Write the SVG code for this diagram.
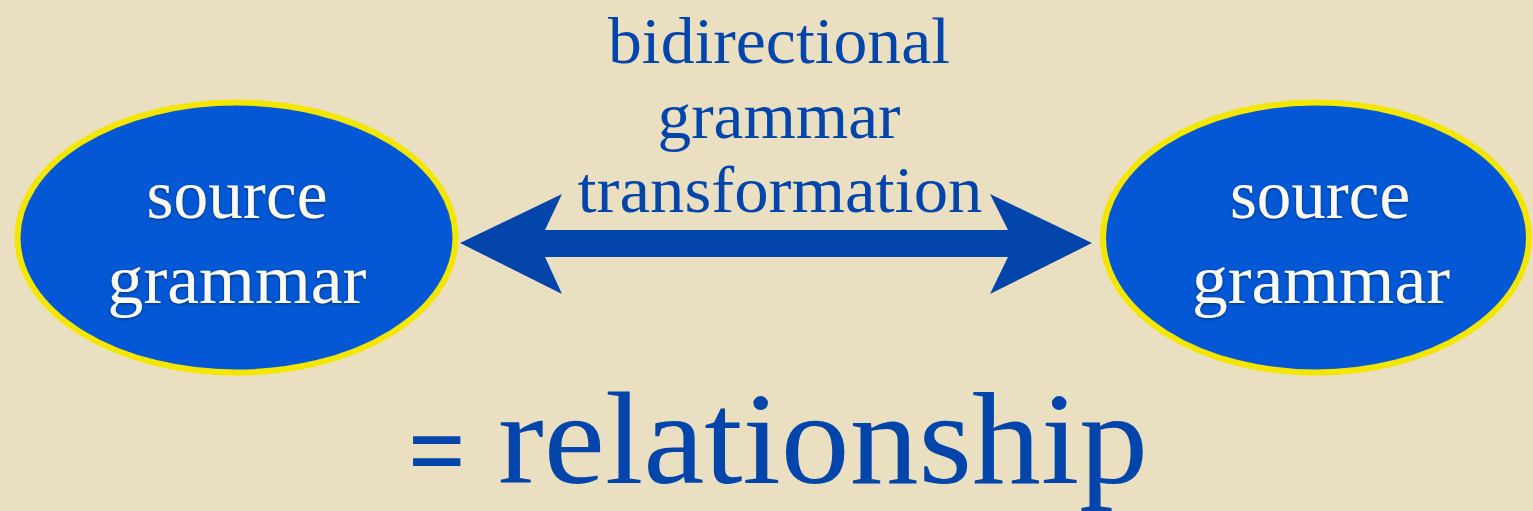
<svg xmlns="http://www.w3.org/2000/svg" width="1533" height="511" viewBox="0 0 1533 511">
  <defs>
    <filter id="shadow" x="-10%" y="-20%" width="120%" height="140%">
      <feDropShadow dx="0" dy="1" stdDeviation="1.5" flood-color="#000" flood-opacity="0.45"/>
    </filter>
  </defs>
  <style>
    .node ellipse { fill: #0458D5; stroke: #F3E600; stroke-width: 6; }
    .ntext { font-family: "Liberation Serif", "Times New Roman", serif; font-size: 70px; fill: #FCFAEE; text-anchor: middle; filter: url(#shadow); }
    .label { font-family: "Liberation Serif", "Times New Roman", serif; font-size: 66px; fill: #0345AA; text-anchor: middle; }
    .big { font-family: "Liberation Serif", "Times New Roman", serif; font-size: 132px; fill: #0345AA; }
    .eq { font-family: "Liberation Serif", "Times New Roman", serif; font-size: 110px; font-weight: bold; fill: #0345AA; }
    .arrow { fill: #0345AA; }
  </style>
  <rect x="0" y="0" width="1533" height="511" fill="#EADFC1"/>

  <g id="connectors">
    <polygon class="arrow" points="460,243 562,194 545,230 1008,230 990,194 1092,243 990,294 1008,257 545,257 562,294"/>
    <g id="connector-label">
      <text class="label" x="779" y="63" textLength="342" lengthAdjust="spacingAndGlyphs">bidirectional</text>
      <text class="label" x="779" y="138" textLength="243" lengthAdjust="spacingAndGlyphs">grammar</text>
      <text class="label" x="780" y="212" textLength="405" lengthAdjust="spacingAndGlyphs">transformation</text>
    </g>
  </g>

  <g id="node-left" class="node">
    <ellipse cx="236.5" cy="237.5" rx="219" ry="135"/>
    <text class="ntext" x="237" y="218" textLength="181" lengthAdjust="spacingAndGlyphs">source</text>
    <text class="ntext" x="237" y="303" textLength="259" lengthAdjust="spacingAndGlyphs">grammar</text>
  </g>

  <g id="node-right" class="node">
    <ellipse cx="1316" cy="237.5" rx="213" ry="135"/>
    <text class="ntext" x="1320" y="218" textLength="180" lengthAdjust="spacingAndGlyphs">source</text>
    <text class="ntext" x="1321" y="303" textLength="258" lengthAdjust="spacingAndGlyphs">grammar</text>
  </g>

  <g id="caption">
    <text class="eq" x="408" y="488" textLength="58" lengthAdjust="spacingAndGlyphs">=</text>
    <text class="big" x="498" y="483" textLength="650" lengthAdjust="spacingAndGlyphs">relationship</text>
  </g>
</svg>
